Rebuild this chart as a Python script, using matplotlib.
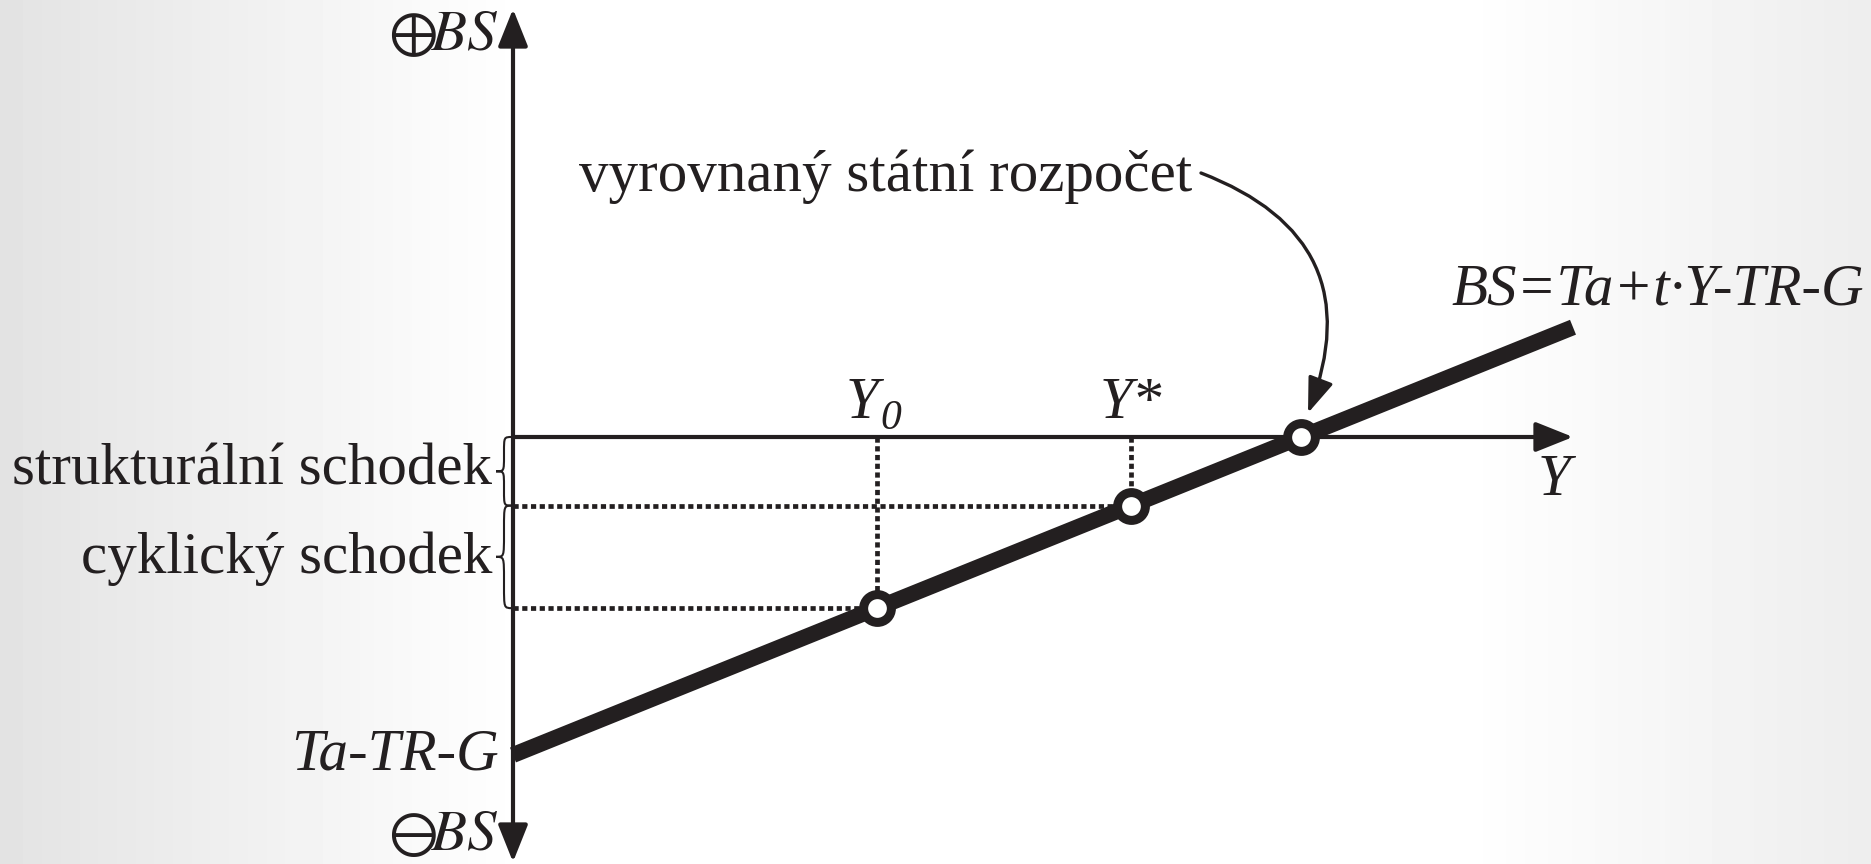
import numpy as np
import matplotlib
matplotlib.use('Agg')
import matplotlib.pyplot as plt
from matplotlib.path import Path
from matplotlib.patches import PathPatch

plt.rcParams['font.family'] = ['Liberation Serif', 'DejaVu Serif']
plt.rcParams['mathtext.fontset'] = 'stix'

# model: BS = Ta + t*Y - TR - G  (units ~ 100 px)
Ta_TR_G = -3.18          # intercept
Y_bal = 7.88             # balanced budget income
t = -Ta_TR_G / Y_bal     # slope
Y_max = 10.6
Y0 = 3.64
Y_star = 6.18

ink = '#231f20'
FS = 42.5

fig = plt.figure(figsize=(18.71, 8.64), dpi=100)

# soft gray gradient background
bg = fig.add_axes([0, 0, 1, 1])
stops_x = [0.0, 0.28, 0.78, 1.0]
stops_v = [0.89, 1.0, 1.0, 0.93]
grad = np.interp(np.linspace(0, 1, 400), stops_x, stops_v)
bg.imshow(np.tile(grad, (10, 1)), aspect='auto', cmap='gray', vmin=0, vmax=1,
          extent=[0, 1, 0, 1])
bg.axis('off')

ax = fig.add_axes([0, 0, 1, 1])
ax.set_xlim(-5.13, 13.58)
ax.set_ylim(-4.27, 4.37)
ax.axis('off')
ax.patch.set_alpha(0)

def bs(y):
    return Ta_TR_G + t * y

# axes with arrows
head = '-|>,head_length=0.5,head_width=0.2'
for tip in [(0, 4.28), (0, -4.25), (Y_max, 0)]:
    ax.annotate('', xy=tip, xytext=(0, 0),
                arrowprops=dict(arrowstyle=head, mutation_scale=46, lw=3.0,
                                color=ink, shrinkA=0, shrinkB=0))

# dotted guides
dots = (0, (1.1, 0.75))
for yy in [Y0, Y_star]:
    ax.plot([0, yy], [bs(yy), bs(yy)], color=ink, lw=3.4, ls=dots, zorder=2)
    ax.plot([yy, yy], [0, bs(yy)], color=ink, lw=3.4, ls=dots, zorder=2)

# budget line
ax.plot([0, Y_max], [bs(0), bs(Y_max)], color=ink, lw=11.5, solid_capstyle='butt', zorder=3)

# points
pts = [Y0, Y_star, Y_bal]
ax.plot(pts, [bs(p) for p in pts], 'o', ms=20, mfc='white', mec=ink, mew=6.5, zorder=4)

# braces
def brace(top, bottom, xl=-0.17, xr=-0.01):
    xm = (xl + xr) / 2
    mid = (top + bottom) / 2
    r = (top - bottom) / 4.5
    verts = [(xr, top), (xm, top), (xm, top), (xm, top - r),
             (xm, mid + r), (xm, mid), (xm, mid), (xl, mid),
             (xm, mid), (xm, mid), (xm, mid - r),
             (xm, bottom + r), (xm, bottom), (xm, bottom), (xr, bottom)]
    codes = [Path.MOVETO, Path.CURVE4, Path.CURVE4, Path.CURVE4,
             Path.LINETO, Path.CURVE4, Path.CURVE4, Path.CURVE4,
             Path.CURVE4, Path.CURVE4, Path.CURVE4,
             Path.LINETO, Path.CURVE4, Path.CURVE4, Path.CURVE4]
    ax.add_patch(PathPatch(Path(verts, codes), fc='none', ec=ink, lw=1.5))

brace(0, bs(Y_star))
brace(bs(Y_star), bs(Y0))

# labels
ax.text(-0.14, 4.01, r'$\oplus\!BS$', fontsize=FS, ha='right', va='center', color=ink)
ax.text(-0.14, -3.99, r'$\ominus\!BS$', fontsize=FS, ha='right', va='center', color=ink)
ax.text(-0.14, Ta_TR_G, 'Ta-TR-G', fontsize=FS, style='italic', ha='right',
        va='center', color=ink)
ax.text(-0.21, -0.47, 'strukturální schodek', fontsize=FS, ha='right',
        va='baseline', color=ink)
ax.text(-0.21, -1.36, 'cyklický schodek', fontsize=FS, ha='right',
        va='baseline', color=ink)
ax.text(Y0 + 0.02, 0.19, 'Y', fontsize=FS, style='italic', ha='right', va='baseline', color=ink)
ax.text(Y0 + 0.03, 0.08, '0', fontsize=30, style='italic', ha='left', va='baseline', color=ink)
ax.text(Y_star, 0.19, 'Y*', fontsize=FS, style='italic', ha='center', va='baseline', color=ink)
ax.text(10.41, -0.58, 'Y', fontsize=FS, style='italic', ha='center', va='baseline', color=ink)
ax.text(13.51, 1.33, 'BS=Ta+t·Y-TR-G', fontsize=FS, style='italic', ha='right',
        va='baseline', color=ink)
ax.text(0.66, 2.46, 'vyrovnaný státní rozpočet', fontsize=FS, ha='left',
        va='baseline', color=ink)

# curved arrow to balanced budget point
ax.annotate('', xy=(Y_bal + 0.07, 0.24), xytext=(6.88, 2.64),
            arrowprops=dict(arrowstyle='-|>,head_length=0.6,head_width=0.22',
                            mutation_scale=36, lw=2.4, color=ink,
                            shrinkA=0, shrinkB=0,
                            connectionstyle='arc3,rad=-0.5'))

fig.savefig('out.png', dpi=100)
